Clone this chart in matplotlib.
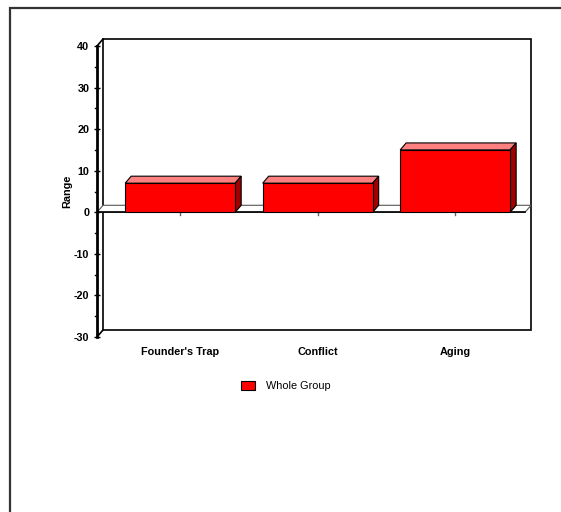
import matplotlib.pyplot as plt
import matplotlib.patches as mpatches

plt.rcParams['font.family'] = ['Liberation Sans', 'DejaVu Sans']
plt.rcParams['axes.unicode_minus'] = False

categories = ["Founder's Trap", "Conflict", "Aging"]
values = [7, 7, 15]
series_name = "Whole Group"
y_ticks = [-30, -20, -10, 0, 10, 20, 30, 40]

W, H = 561, 512
fig = plt.figure(figsize=(W / 100, H / 100), dpi=100)

# outer frame
fig.add_artist(mpatches.Rectangle((10 / W, -0.1), 1.2, 1 - 8 / H + 0.1, transform=fig.transFigure,
                                  fill=False, edgecolor="#333333", linewidth=1.6))

# front plane of the plot in pixels
left, right, top, bottom = 97, 525, 46, 337
ax = fig.add_axes([left / W, 1 - bottom / H, (right - left) / W, (bottom - top) / H])
ax.set_xlim(-0.605, 2.508)
ax.set_ylim(-30, 40)
for s in ax.spines.values():
    s.set_visible(False)
ax.patch.set_visible(False)

# depth offset (pixels) converted into data units
dpx, dpy = 6, 7
x0, x1 = ax.get_xlim()
y0, y1 = ax.get_ylim()
dx = dpx * (x1 - x0) / (right - left)
dy = dpy * (y1 - y0) / (bottom - top)

# back wall
ax.add_patch(mpatches.Rectangle((x0 + dx, y0 + dy), x1 - x0, y1 - y0, fill=False,
                                edgecolor="black", linewidth=1.2, clip_on=False, zorder=1))
ax.plot([x0, x0 + dx], [y1, y1 + dy], color="black", lw=1.2, clip_on=False)
ax.plot([x0, x0 + dx], [y0, y0 + dy], color="black", lw=1.2, clip_on=False)
# front axis line
ax.plot([x0, x0], [y0, y1], color="black", lw=2, clip_on=False, zorder=5)

# zero floor
ax.add_patch(mpatches.Polygon([(x0, 0), (x1, 0), (x1 + dx, dy), (x0 + dx, dy)], closed=True,
                              facecolor="white", edgecolor="#555555", linewidth=0.8,
                              clip_on=False, zorder=2))
ax.plot([x0, x1], [0, 0], color="black", lw=1.2, zorder=3, clip_on=False)

# bars
bw = 0.8
for i, v in enumerate(values):
    xl, xr = i - bw / 2, i + bw / 2
    ax.add_patch(mpatches.Polygon([(xl, v), (xr, v), (xr + dx, v + dy), (xl + dx, v + dy)],
                                  facecolor="#FF8080", edgecolor="black", lw=0.8, zorder=4))
    ax.add_patch(mpatches.Polygon([(xr, 0), (xr + dx, dy), (xr + dx, v + dy), (xr, v)],
                                  facecolor="#A00000", edgecolor="black", lw=0.8, zorder=4))
bars = ax.bar(range(len(categories)), values, width=bw, color="#FF0000", edgecolor="black",
              linewidth=0.8, zorder=4, label=series_name)

# y ticks
ax.set_yticks(y_ticks)
ax.tick_params(axis="y", which="major", direction="inout", length=5, width=1, pad=3,
               labelsize=7.8)
for t in range(-25, 40, 10):
    ax.plot([x0 - 0.012, x0], [t, t], color="black", lw=1, clip_on=False, zorder=5)
for lab in ax.get_yticklabels():
    lab.set_fontweight("bold")
ax.set_ylabel("Range", fontsize=7.8, fontweight="bold", labelpad=1)

# x labels
ax.set_xticks(range(len(categories)))
ax.set_xticklabels([])
ax.tick_params(axis="x", length=0)
for i, c in enumerate(categories):
    ax.plot([i, i], [0, -0.7], color="#666666", lw=1, zorder=3)
    ax.text(i, y0 - 3.6, c, ha="center", va="center", fontsize=7.8, fontweight="bold")

# legend
fig.legend(handles=[bars], labels=[series_name], loc="center",
           bbox_to_anchor=(286 / W, 1 - 386 / H), frameon=False, fontsize=7.8,
           handlelength=1.3, handleheight=1.0, handletextpad=1.0)

fig.savefig("out.png", dpi=100)
